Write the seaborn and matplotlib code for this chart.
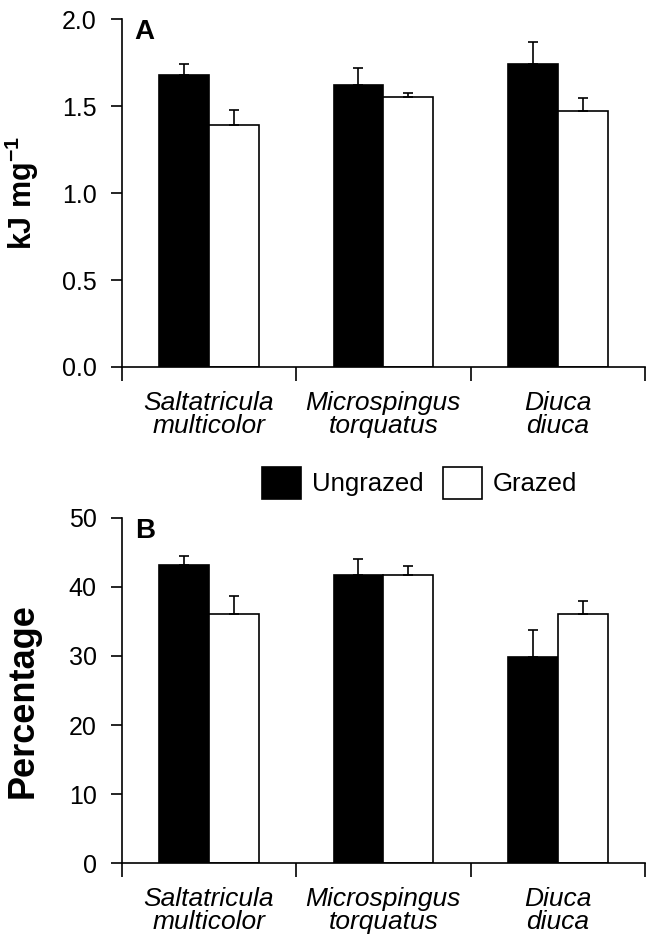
import numpy as np
import pandas as pd
import seaborn as sns
import matplotlib.pyplot as plt
from matplotlib.patches import Patch

# species (x categories)
species = ["Saltatricula\nmulticolor", "Microspingus\ntorquatus", "Diuca\ndiuca"]
treatments = ["Ungrazed", "Grazed"]

# panel A: energy content (kJ mg-1), mean and upper error
energy_ungrazed = [1.68, 1.62, 1.74]
energy_ungrazed_err = [0.06, 0.10, 0.13]
energy_grazed = [1.39, 1.55, 1.47]
energy_grazed_err = [0.085, 0.025, 0.075]

# panel B: percentage
pct_ungrazed = [43.2, 41.7, 29.8]
pct_ungrazed_err = [1.3, 2.3, 4.0]
pct_grazed = [36.0, 41.7, 36.0]
pct_grazed_err = [2.7, 1.3, 1.9]

energy_ticks = [0.0, 0.5, 1.0, 1.5, 2.0]
pct_ticks = [0, 10, 20, 30, 40, 50]


def make_frame(ungrazed, ungrazed_err, grazed, grazed_err):
    return pd.DataFrame({
        "species": species * 2,
        "treatment": ["Ungrazed"] * 3 + ["Grazed"] * 3,
        "value": ungrazed + grazed,
        "err": ungrazed_err + grazed_err,
    })


def draw_panel(ax, df, ticks, tick_fmt, ylabel, label_size, label_y, letter):
    sns.barplot(data=df, x="species", y="value", hue="treatment",
                hue_order=treatments, palette=["black", "white"],
                edgecolor="black", linewidth=1.2, width=0.57,
                errorbar=None, legend=False, ax=ax)

    # upward-only error bars on top of each bar
    for container, level in zip(ax.containers, treatments):
        errs = df.loc[df["treatment"] == level, "err"].to_numpy()
        xs = [b.get_x() + b.get_width() / 2 for b in container]
        ys = [b.get_height() for b in container]
        ax.errorbar(xs, ys, yerr=[np.zeros(len(errs)), errs], fmt="none",
                    ecolor="black", elinewidth=1.2, capsize=3.6,
                    capthick=1.2, zorder=1)

    ax.set_xlim(-0.5, 2.5)
    ax.set_ylim(ticks[0], ticks[-1])
    ax.set_yticks(ticks, labels=[tick_fmt.format(t) for t in ticks])

    # group boundaries carry the tick marks, names sit in between
    ax.set_xticks([-0.5, 0.5, 1.5, 2.5], labels=[])
    ax.set_xticks([0, 1, 2], labels=species, minor=True, fontstyle="italic")
    ax.tick_params(axis="x", which="major", length=10, width=1.2, direction="out")
    ax.tick_params(axis="x", which="minor", length=0, pad=17, labelsize=19)
    ax.tick_params(axis="y", length=8, width=1.2, direction="out", pad=10, labelsize=18)
    for lab in ax.get_xticklabels(minor=True):
        lab.set_linespacing(0.95)

    ax.set_xlabel("")
    ax.set_ylabel(ylabel, fontsize=label_size, fontweight="bold")
    ax.yaxis.set_label_coords(-0.155, label_y)

    sns.despine(ax=ax)
    for side in ["left", "bottom"]:
        ax.spines[side].set_linewidth(1.2)
        ax.spines[side].set_color("black")

    ax.text(0.025, 1.0, letter, transform=ax.transAxes, fontsize=20,
            fontweight="bold", va="top", ha="left")


sns.set_style("ticks")
plt.rcParams["font.family"] = ["Liberation Sans", "DejaVu Sans"]
plt.rcParams["mathtext.fontset"] = "custom"
plt.rcParams["mathtext.rm"] = "Liberation Sans"
plt.rcParams["mathtext.bf"] = "Liberation Sans:bold"
for key in ["text.color", "axes.labelcolor", "xtick.color", "ytick.color",
            "axes.edgecolor"]:
    plt.rcParams[key] = "black"

fig = plt.figure(figsize=(6.47, 9.35), dpi=100)
ax_a = fig.add_axes([0.188, 0.6075, 0.809, 0.372])
ax_b = fig.add_axes([0.188, 0.0767, 0.809, 0.3696])

draw_panel(ax_a, make_frame(energy_ungrazed, energy_ungrazed_err,
                            energy_grazed, energy_grazed_err),
           energy_ticks, "{:.1f}", r"kJ mg$^{\mathbf{-1}}$", 22, 0.5, "A")
draw_panel(ax_b, make_frame(pct_ungrazed, pct_ungrazed_err,
                            pct_grazed, pct_grazed_err),
           pct_ticks, "{:d}", "Percentage", 26, 0.47, "B")

handles = [Patch(facecolor="black", edgecolor="black", linewidth=1.2),
           Patch(facecolor="white", edgecolor="black", linewidth=1.2)]
fig.legend(handles, treatments, loc="center", bbox_to_anchor=(0.648, 0.4834),
           ncol=2, frameon=False, fontsize=18.5, handlelength=1.55,
           handleheight=1.55, handletextpad=0.4, columnspacing=0.75,
           borderpad=0)

fig.savefig("out.png", dpi=100, facecolor="white")
